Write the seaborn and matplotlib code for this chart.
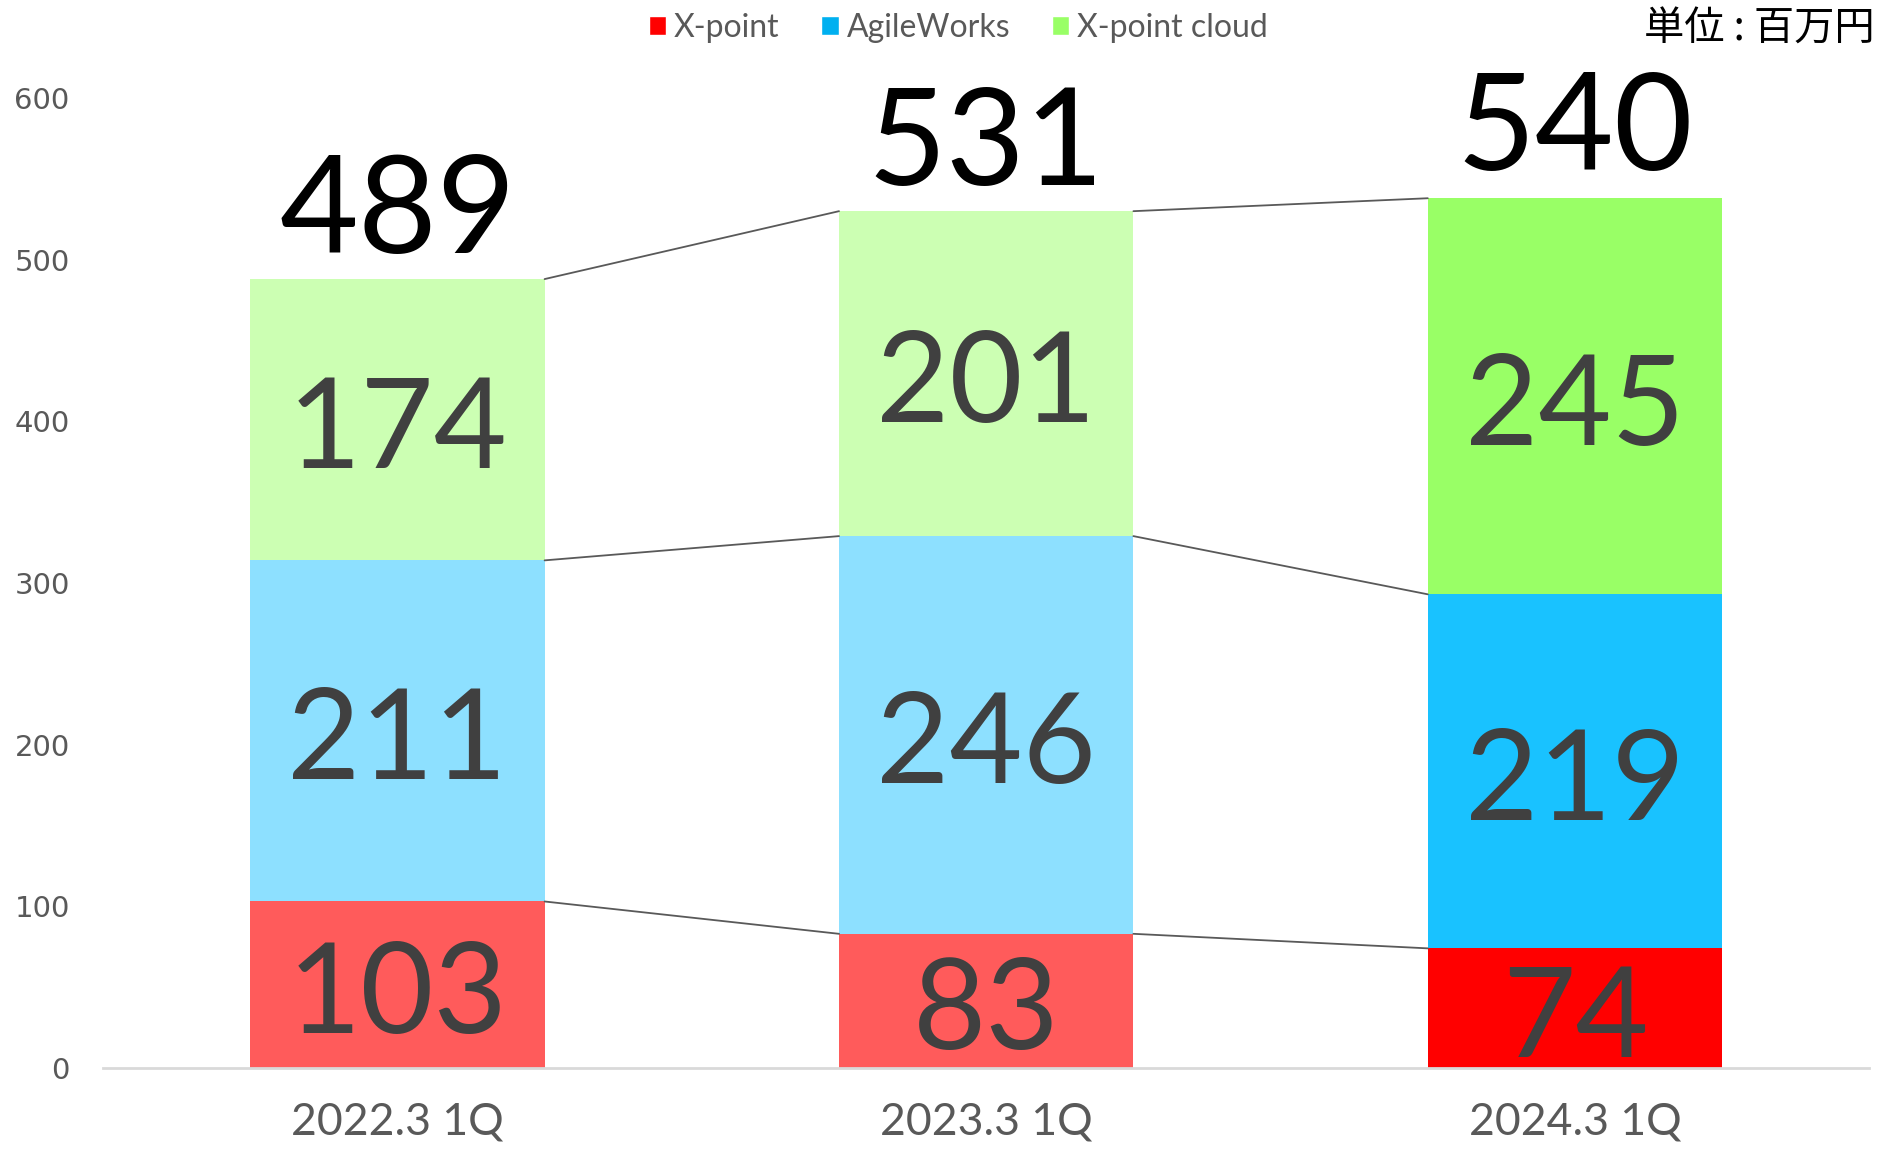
import numpy as np
import pandas as pd
import matplotlib
matplotlib.use('Agg')
import matplotlib.pyplot as plt
import seaborn as sns
from matplotlib.patches import Patch

periods = ['2022.3 1Q', '2023.3 1Q', '2024.3 1Q']
series = ['X-point', 'AgileWorks', 'X-point cloud']
xpoint = [103, 83, 74]
agile = [211, 246, 219]
cloud = [174, 201, 245]
totals = [489, 531, 540]

# lighter shades for the past years, strong ones for the latest year
bar_colors = {
    'X-point': ['#FF5B5B', '#FF5B5B', '#FF0000'],
    'AgileWorks': ['#8DE0FF', '#8DE0FF', '#19C2FF'],
    'X-point cloud': ['#CCFFB3', '#CCFFB3', '#99FF66'],
}
legend_colors = ['#FF0000', '#00B0F0', '#99FF66']

df = pd.DataFrame({'period': periods, 'X-point': xpoint,
                   'AgileWorks': agile, 'X-point cloud': cloud})
df['c1'] = df['X-point']
df['c2'] = df['c1'] + df['AgileWorks']
df['c3'] = df['c2'] + df['X-point cloud']

sns.set_style('white')
plt.rcParams['font.family'] = ['Lato', 'DejaVu Sans']

fig = plt.figure(figsize=(18.94, 11.49), dpi=100)
ax = fig.add_axes([0.0544, 0.0705, 0.9326, 0.8442])

# stacked bars: draw cumulative layers from the top down
for col, name in [('c3', 'X-point cloud'), ('c2', 'AgileWorks'), ('c1', 'X-point')]:
    sns.barplot(data=df, x='period', y=col, hue='period', palette=bar_colors[name],
                width=0.5, saturation=1, legend=False, ax=ax, linewidth=0)

# connector lines between bar edges
levels = df[['c1', 'c2', 'c3']].to_numpy()
for i in range(len(periods) - 1):
    for j in range(3):
        ax.plot([i + 0.25, i + 0.75], [levels[i, j], levels[i + 1, j]],
                color='#595959', lw=1.3, zorder=3)

# segment labels
for i in range(len(periods)):
    bottoms = [0, levels[i, 0], levels[i, 1]]
    vals = [xpoint[i], agile[i], cloud[i]]
    for b, v in zip(bottoms, vals):
        ax.text(i, b + v / 2 - 8, str(v), ha='center', va='center',
                fontsize=91, color='#404040', zorder=4)
    ax.text(i, totals[i] + 1, str(totals[i]), ha='center', va='bottom',
            fontsize=98, color='black', zorder=4, clip_on=False)

ax.set_xlim(-0.5, 2.5)
ax.set_ylim(0, 600)
ax.set_yticks(range(0, 601, 100))
ax.set_xlabel('')
ax.set_ylabel('')
ax.tick_params(axis='x', length=0, pad=24, labelsize=32, labelcolor='#595959')
ax.tick_params(axis='y', length=0, pad=24, labelcolor='#595959')
for lab in ax.get_yticklabels():
    lab.set_fontfamily('DejaVu Sans')
    lab.set_fontsize(21)
for s in ['top', 'right', 'left']:
    ax.spines[s].set_visible(False)
ax.spines['bottom'].set_color('#D9D9D9')
ax.spines['bottom'].set_linewidth(2)

handles = [Patch(facecolor=c, label=s) for c, s in zip(legend_colors, series)]
fig.legend(handles=handles, loc='upper center', bbox_to_anchor=(0.506, 1.014), ncol=3,
           frameon=False, fontsize=23, handlelength=0.55, handleheight=0.55,
           handletextpad=0.25, columnspacing=1.3, labelcolor='#595959')

fig.text(0.99, 0.975, '単位 : 百万円', ha='right', va='center', fontsize=29,
         family=['Noto Sans CJK JP', 'DejaVu Sans'], color='black')

fig.savefig('out.png', dpi=100)
